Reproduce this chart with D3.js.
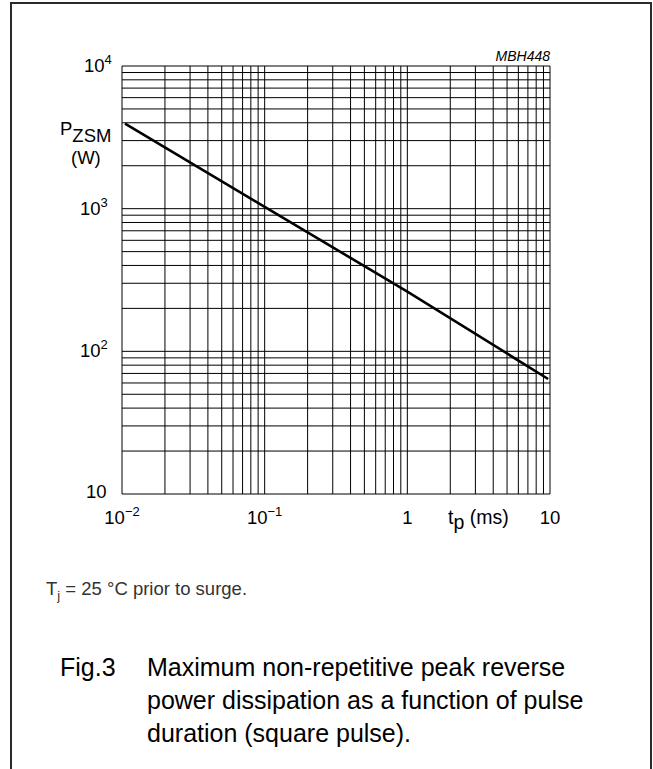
<!DOCTYPE html>
<html><head><meta charset="utf-8">
<script src="https://cdn.jsdelivr.net/npm/d3@7"></script>
<style>
body{margin:0;background:#fff}
svg{display:block}
text{font-family:"Liberation Sans",Arial,Helvetica,sans-serif;fill:#000}
</style>
</head><body>
<svg id="c" width="653" height="769"></svg>
<script>
// data
const pulseMs = [0.0105, 0.1, 1, 9.7];
const powerW = [3950, 1030, 262, 64];
const xTickValues = [0.01, 0.1, 1, 10];
const xTickBase = ["10", "10", "1", "10"];
const xTickExp = ["\u22122", "\u22121", "", ""];
const yTickValues = [10, 100, 1000, 10000];
const yTickBase = ["10", "10", "10", "10"];
const yTickExp = ["", "2", "3", "4"];
const captionLines = ["Maximum non-repetitive peak reverse", "power dissipation as a function of pulse", "duration (square pulse)."];

const svg = d3.select("#c");
const x = d3.scaleLog().domain([0.01, 10]).range([122, 550]);
const y = d3.scaleLog().domain([10, 10000]).range([494, 66]);

// frame
svg.append("rect").attr("x", 11).attr("y", 3).attr("width", 640).attr("height", 820)
  .attr("fill", "none").attr("stroke", "#2a2a2a").attr("stroke-width", 2);

// grid
const g = svg.append("g").attr("stroke", "#000").attr("stroke-width", 1).attr("fill", "none");
g.selectAll("line.v").data(x.ticks()).join("line").attr("class", "v")
  .attr("x1", d => x(d)).attr("x2", d => x(d)).attr("y1", y(10)).attr("y2", y(10000));
g.selectAll("line.h").data(y.ticks()).join("line").attr("class", "h")
  .attr("y1", d => y(d)).attr("y2", d => y(d)).attr("x1", x(0.01)).attr("x2", x(10));

// curve
const pts = pulseMs.map((t, i) => [t, powerW[i]]);
svg.append("path").datum(pts)
  .attr("d", d3.line().x(d => x(d[0])).y(d => y(d[1])))
  .attr("fill", "none").attr("stroke", "#000").attr("stroke-width", 2.6);

const FS = 18.5;
// x tick labels
xTickValues.forEach((v, i) => {
  const t = svg.append("text").attr("x", x(v)).attr("y", 524)
    .attr("text-anchor", "middle").attr("font-size", FS).text(xTickBase[i]);
  if (xTickExp[i]) t.append("tspan").attr("dy", -8).attr("font-size", 13).text(xTickExp[i]);
});
// x axis title
const xt = svg.append("text").attr("x", 448).attr("y", 524).attr("font-size", 19.5).text("t");
xt.append("tspan").attr("dy", 5).text("p");
xt.append("tspan").attr("dy", -5).text(" (ms)");

// y tick labels
yTickValues.forEach((v, i) => {
  const left = v === 10000 ? 84 : (v === 10 ? 86 : 80);
  const t = svg.append("text").attr("x", left).attr("y", y(v) + (v === 10 ? 4 : 6))
    .attr("font-size", FS).text(yTickBase[i]);
  if (yTickExp[i]) t.append("tspan").attr("dy", -8).attr("font-size", 13).text(yTickExp[i]);
});
// y axis title
const yt = svg.append("text").attr("x", 60).attr("y", 135).attr("font-size", FS).text("P");
yt.append("tspan").attr("dy", 7).text("ZSM");
svg.append("text").attr("x", 71).attr("y", 164).attr("font-size", FS).text("(W)");

// code label
svg.append("text").attr("x", 550).attr("y", 61).attr("text-anchor", "end")
  .attr("font-size", 14).attr("font-style", "italic").text("MBH448");

// condition note
const note = svg.append("text").attr("x", 46).attr("y", 595).attr("font-size", FS).style("fill", "#333").text("T");
note.append("tspan").attr("dy", 5).attr("font-size", 13).text("j");
note.append("tspan").attr("dy", -5).text(" = 25 \u00B0C prior to surge.");

// caption
svg.append("text").attr("x", 60).attr("y", 676).attr("font-size", 25).text("Fig.3");
captionLines.forEach((s, i) => {
  svg.append("text").attr("x", 147).attr("y", 676 + i * 33).attr("font-size", 25).text(s);
});
</script>
</body></html>
